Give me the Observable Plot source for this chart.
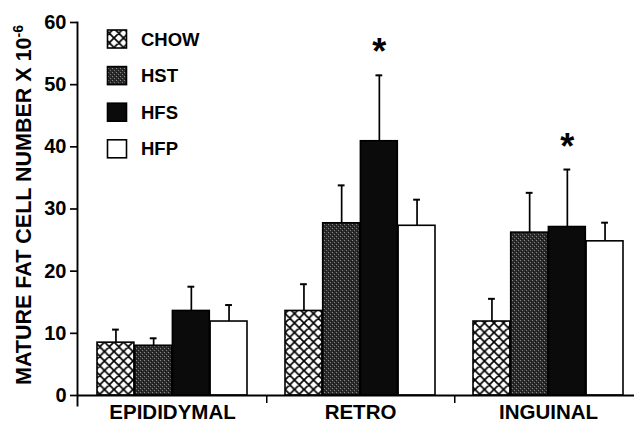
<!DOCTYPE html>
<html>
<head>
<meta charset="utf-8">
<script src="https://cdn.jsdelivr.net/npm/d3@7"></script>
<script src="https://cdn.jsdelivr.net/npm/@observablehq/plot@0.6"></script>
<style>
  html, body { margin: 0; padding: 0; background: white; }
  #chart { width: 634px; height: 422px; }
</style>
</head>
<body>
<div id="chart"></div>
<script>
// ---- data ----
const groups = ["EPIDIDYMAL", "RETRO", "INGUINAL"];
const seriesNames = ["CHOW", "HST", "HFS", "HFP"];
const chowMeans = [8.5, 13.6, 11.9];
const hstMeans  = [8.0, 27.7, 26.2];
const hfsMeans  = [13.6, 40.9, 27.1];
const hfpMeans  = [11.9, 27.3, 24.8];
const chowErr = [2.1, 4.3, 3.65];
const hstErr  = [1.2, 6.1, 6.4];
const hfsErr  = [3.9, 10.6, 9.25];
const hfpErr  = [2.65, 4.2, 3.0];
const starred = [["RETRO", "HFS"], ["INGUINAL", "HFS"]];
const yTicks = [0, 10, 20, 30, 40, 50, 60];
const yTitle = "MATURE FAT CELL NUMBER X 10";
const yTitleSup = "-6";

// ---- build table ----
const meansBySeries = [chowMeans, hstMeans, hfsMeans, hfpMeans];
const errBySeries = [chowErr, hstErr, hfsErr, hfpErr];
const data = [];
seriesNames.forEach((s, i) => groups.forEach((g, j) => data.push({
  series: s, group: g, value: meansBySeries[i][j], err: errBySeries[i][j],
  star: starred.some(([sg, ss]) => sg === g && ss === s)
})));

// ---- styling ----
const fills = ["url(#pCross)", "url(#pStip)", "#0b0b0b", "white"];
const bandW = 150.8;           // width of one group band (px)
const w = bandW / 4;           // width of one bar
const capHalf = 3.8;
const FONT = "'Liberation Sans', Arial, Helvetica, sans-serif";

const marks = [];
seriesNames.forEach((s, i) => {
  const sub = data.filter(d => d.series === s);
  marks.push(Plot.barY(sub, {
    x: "group", y: "value", fill: fills[i], stroke: "black", strokeWidth: 1.6,
    insetLeft: i * w, insetRight: (3 - i) * w
  }));
  marks.push(Plot.ruleX(sub, {
    x: "group", y1: "value", y2: d => d.value + d.err,
    dx: (i - 1.5) * w, stroke: "black", strokeWidth: 1.7
  }));
  marks.push(Plot.tickY(sub, {
    x: "group", y: d => d.value + d.err, stroke: "black", strokeWidth: 2,
    insetLeft: (i + 0.5) * w - capHalf, insetRight: (3.5 - i) * w - capHalf
  }));
  marks.push(Plot.text(sub.filter(d => d.star), {
    x: "group", y: d => d.value + d.err, text: () => "*",
    dx: (i - 1.5) * w, dy: -11, fontSize: 36, fontWeight: "bold", fill: "black",
    lineAnchor: "bottom"
  }));
});

const plot = Plot.plot({
  width: 634, height: 422,
  marginLeft: 77, marginRight: -8.5, marginTop: 22, marginBottom: 27,
  style: { fontFamily: FONT, background: "white", color: "black" },
  x: { domain: groups, paddingInner: 0.2, paddingOuter: 0.1, axis: null },
  y: { domain: [0, 60], axis: null },
  marks: [
    ...marks,
    Plot.ruleY([0], { stroke: "black", strokeWidth: 1.9 }),
    Plot.frame({ anchor: "left", stroke: "black", strokeWidth: 1.9, insetBottom: -10 }),
    Plot.axisY({ ticks: yTicks, tickSize: 7, tickPadding: 4, fontSize: 20, fontWeight: "bold",
                 strokeWidth: 1.7, label: null, tickFormat: d => d }),
    Plot.axisX({ tickSize: 0, tickPadding: 9, fontSize: 20.5, fontWeight: "bold", label: null }),
    Plot.axisX(groups.slice(0, 2), { tickSize: 8, text: null, dx: bandW / 0.8 / 2, strokeWidth: 1.5, label: null })
  ]
});

document.getElementById("chart").appendChild(plot);

// ---- patterns ----
const svg = d3.select(plot);
const defs = svg.insert("defs", ":first-child");
const pc = defs.append("pattern").attr("id", "pCross").attr("patternUnits", "userSpaceOnUse")
  .attr("width", 9.5).attr("height", 9.5);
pc.append("rect").attr("width", 9.5).attr("height", 9.5).attr("fill", "white");
pc.append("path").attr("d", "M0,0L9.5,9.5M9.5,0L0,9.5M-1,8.5L1,10.5M8.5,-1L10.5,1M-1,1L1,-1M8.5,10.5L10.5,8.5")
  .attr("stroke", "black").attr("stroke-width", 1.7).attr("fill", "none");
const ps = defs.append("pattern").attr("id", "pStip").attr("patternUnits", "userSpaceOnUse")
  .attr("width", 4).attr("height", 4);
ps.append("rect").attr("width", 4).attr("height", 4).attr("fill", "#2c2c2c");
[[0,0,"#8a8a8a"],[2,2,"#7a7a7a"],[1,3,"#111"],[3,1,"#151515"]].forEach(([x,y,c]) =>
  ps.append("rect").attr("x", x).attr("y", y).attr("width", 1).attr("height", 1).attr("fill", c));

// ---- legend ----
const leg = svg.append("g").attr("font-family", FONT).attr("text-anchor", "start");
seriesNames.forEach((s, i) => {
  const cy = 39 + i * 36.6;
  leg.append("rect").attr("x", 107.5).attr("y", cy - 9).attr("width", 19).attr("height", 18)
    .attr("fill", fills[i]).attr("stroke", "black").attr("stroke-width", 1.6);
  leg.append("text").attr("x", 141).attr("y", cy).attr("dy", "0.36em").attr("text-anchor", "start")
    .attr("font-size", 18.5).attr("font-weight", "bold").attr("fill", "black").text(s);
});

// ---- y title ----
const t = svg.append("text").attr("font-family", FONT).attr("font-weight", "bold")
  .attr("font-size", 21.5).attr("fill", "black").attr("text-anchor", "middle")
  .attr("transform", "translate(31,205) rotate(-90)");
t.append("tspan").text(yTitle);
t.append("tspan").attr("font-size", 14).attr("dy", -8).text(yTitleSup);
</script>
</body>
</html>
